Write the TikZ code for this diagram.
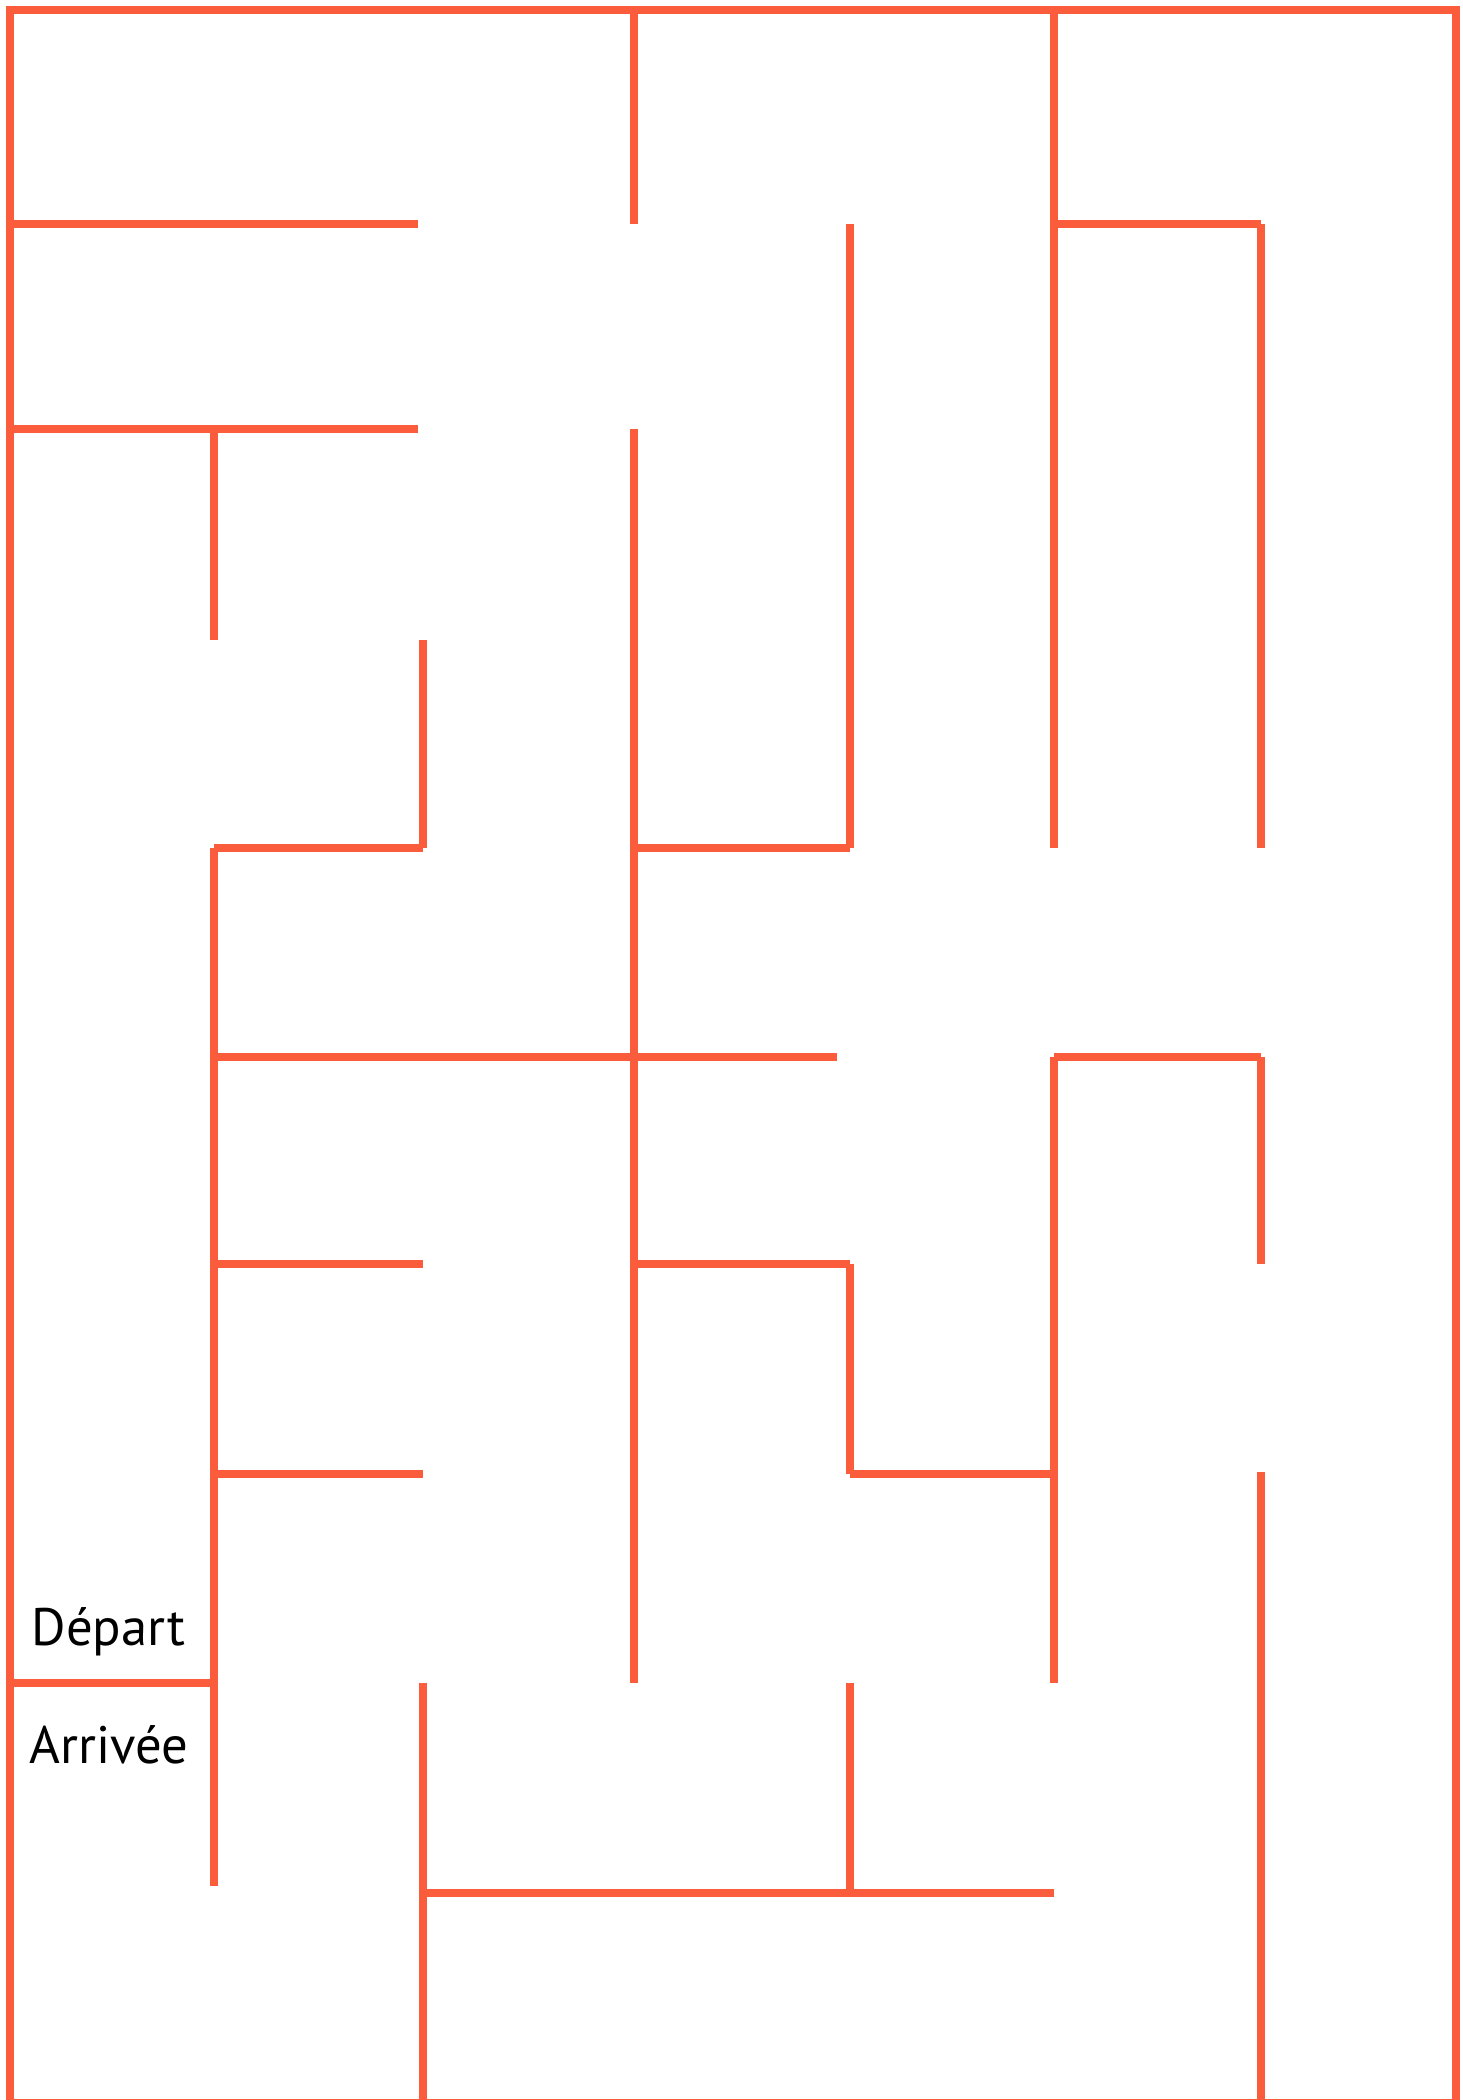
\documentclass[tikz,border=0pt]{standalone}
\usepackage{fontspec}
\setmainfont{PT Sans}
\usepackage{tikz}
\usetikzlibrary{positioning}
\definecolor{mazered}{RGB}{250,92,60}

\begin{document}
\begin{tikzpicture}[
    x=0.1mm, y=-0.1mm,
    wall/.style={draw=mazered, line width=0.8mm},
    lbl/.style={font=\fontsize{15}{18}\selectfont, inner sep=0pt, anchor=base west}
  ]
  \useasboundingbox (0,0) rectangle (1463,2100);

  \draw[wall] (10,10) rectangle (1456,2103);

  \draw[wall] (634,10)   -- (634,224);
  \draw[wall] (1054,10)  -- (1054,848);
  \draw[wall] (10,224)   -- (418,224);
  \draw[wall] (1054,224) -- (1261,224);
  \draw[wall] (850,224)  -- (850,848);
  \draw[wall] (1261,224) -- (1261,848);

  \draw[wall] (10,429)   -- (418,429);
  \draw[wall] (214,429)  -- (214,640);
  \draw[wall] (634,429)  -- (634,1683);
  \draw[wall] (423,640)  -- (423,848);

  \draw[wall] (214,848)  -- (423,848);
  \draw[wall] (214,848)  -- (214,1886);
  \draw[wall] (634,848)  -- (850,848);

  \draw[wall] (214,1057)  -- (837,1057);
  \draw[wall] (1054,1057) -- (1261,1057);
  \draw[wall] (1054,1057) -- (1054,1683);
  \draw[wall] (1261,1057) -- (1261,1264);

  \draw[wall] (214,1264) -- (423,1264);
  \draw[wall] (634,1264) -- (850,1264);
  \draw[wall] (850,1264) -- (850,1474);

  \draw[wall] (214,1474)  -- (423,1474);
  \draw[wall] (850,1474)  -- (1054,1474);
  \draw[wall] (1261,1472) -- (1261,2103);

  \draw[wall] (10,1683)  -- (214,1683);
  \draw[wall] (423,1683) -- (423,2103);
  \draw[wall] (850,1683) -- (850,1893);
  \draw[wall] (423,1893) -- (1054,1893);

  \node[lbl] (depart)  at (31,1645) {Départ};
  \node[lbl] (arrivee) at (29,1763) {Arrivée};
\end{tikzpicture}
\end{document}
